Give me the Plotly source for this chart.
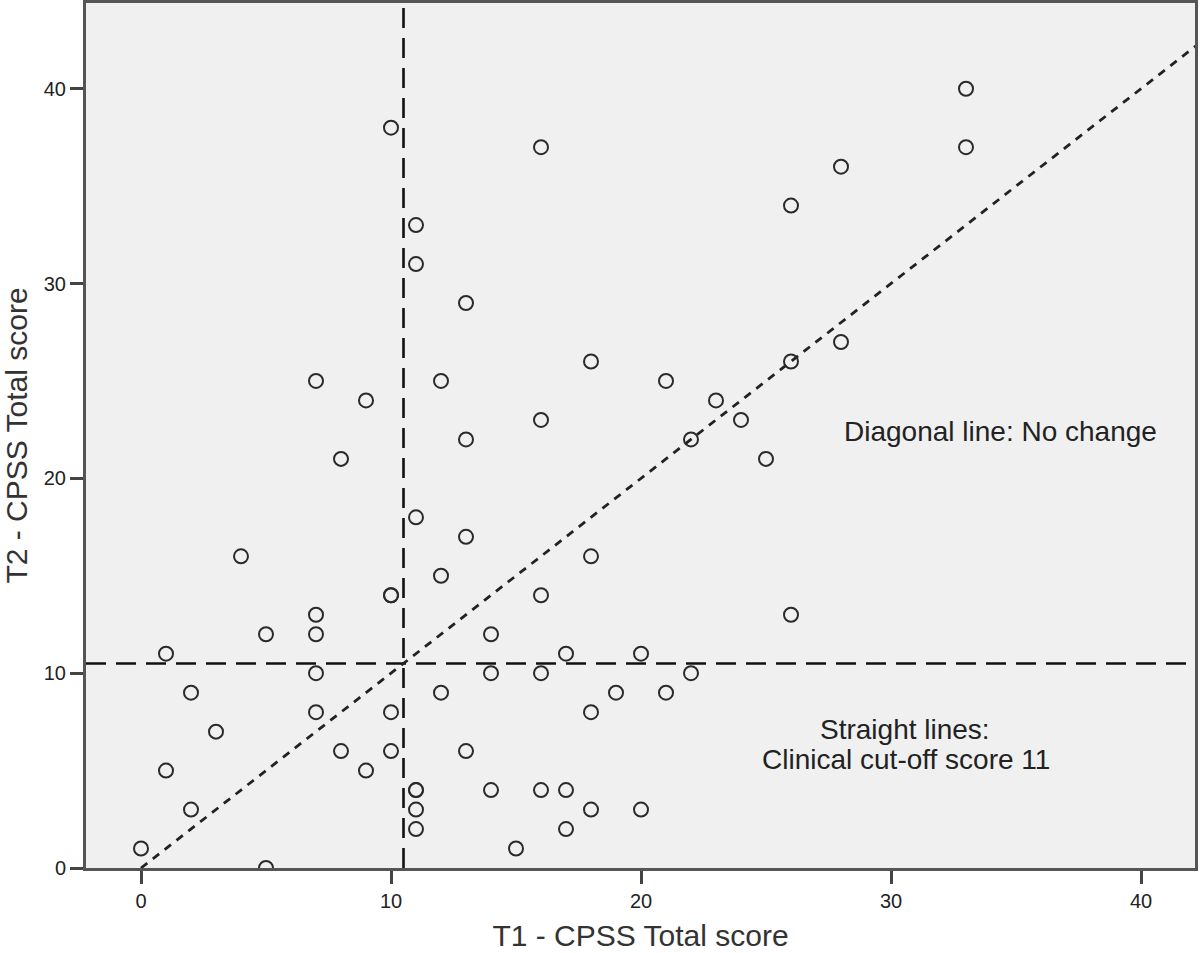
import plotly.graph_objects as go

# T1 (x) and T2 (y) CPSS total scores
t1 = [0, 1, 1, 2, 2, 3, 4, 5, 5, 7, 7, 7, 7, 7, 8, 8, 9, 9, 10, 10, 10, 10, 10,
      11, 11, 11, 11, 11, 11, 11, 12, 12, 12, 13, 13, 13, 13, 14, 14, 14, 15,
      16, 16, 16, 16, 16, 17, 17, 17, 18, 18, 18, 18, 19, 20, 20, 21, 21, 22, 22,
      23, 24, 25, 26, 26, 26, 28, 28, 33, 33]
t2 = [1, 11, 5, 9, 3, 7, 16, 12, 0, 25, 13, 12, 10, 8, 21, 6, 24, 5, 38, 14, 14, 8, 6,
      33, 31, 18, 4, 4, 3, 2, 25, 15, 9, 29, 22, 17, 6, 12, 10, 4, 1,
      37, 23, 14, 10, 4, 11, 4, 2, 26, 16, 8, 3, 9, 11, 3, 25, 9, 22, 10,
      24, 23, 21, 34, 26, 13, 36, 27, 40, 37]

CUTOFF = 10.5
X_RANGE = [-2.2, 42.16]
Y_RANGE = [0, 44.4]
x_ticks = [0, 10, 20, 30, 40]
y_ticks = [0, 10, 20, 30, 40]

FONT = "Liberation Sans, Arial, sans-serif"
INK = "#222222"

fig = go.Figure()

# Diagonal line of no change
fig.add_trace(go.Scatter(
    x=[0, X_RANGE[1] + 5], y=[0, X_RANGE[1] + 5], mode="lines",
    line=dict(color="#222222", width=2.8, dash="8px,7px"),
    hoverinfo="skip", showlegend=False))

# Data points
fig.add_trace(go.Scatter(
    x=t1, y=t2, mode="markers",
    marker=dict(symbol="circle-open", size=14, color="#2a2a2a",
                line=dict(width=2, color="#2a2a2a")),
    showlegend=False))

# Clinical cut-off lines
fig.add_shape(type="line", xref="x", yref="paper", x0=CUTOFF, x1=CUTOFF, y0=0, y1=1,
              line=dict(color="#111111", width=2.6, dash="20px,10px"), layer="below")
fig.add_shape(type="line", xref="paper", yref="y", x0=0, x1=1, y0=CUTOFF, y1=CUTOFF,
              line=dict(color="#111111", width=2.6, dash="20px,10px"), layer="below")

ANN_FONT = dict(family=FONT, size=28, color=INK)
fig.add_annotation(x=34.36, y=22.4, text="Diagonal line: No change", showarrow=False,
                   font=ANN_FONT)
fig.add_annotation(x=30.56, y=7.09, text="Straight lines:", showarrow=False,
                   font=ANN_FONT)
fig.add_annotation(x=30.6, y=5.55, text="Clinical cut-off score 11", showarrow=False,
                   font=ANN_FONT)

axis_common = dict(showgrid=False, zeroline=False, showline=True, mirror=True,
                   linecolor="#555555", linewidth=3, ticks="outside", ticklen=13,
                   tickwidth=3, tickcolor="#444444", automargin=False,
                   tickfont=dict(family=FONT, size=20, color=INK))

fig.update_xaxes(range=X_RANGE, tickvals=x_ticks, ticktext=[str(v) for v in x_ticks],
                 title=dict(text="T1 - CPSS Total score", standoff=14,
                            font=dict(family=FONT, size=30, color="#333333")),
                 **axis_common)
fig.update_yaxes(range=Y_RANGE, tickvals=y_ticks, ticktext=[str(v) for v in y_ticks],
                 title=dict(text="T2 - CPSS Total score", standoff=16,
                            font=dict(family=FONT, size=30, color="#333333")),
                 **axis_common)

fig.update_layout(width=1200, height=953, plot_bgcolor="#F0F0F0", paper_bgcolor="white",
                  margin=dict(l=86, r=5, t=3, b=85), font=dict(family=FONT))

fig.write_html("out.html", config={"displayModeBar": False},
               post_script="document.body.style.margin='0';"
                           "document.body.style.overflow='hidden';")
